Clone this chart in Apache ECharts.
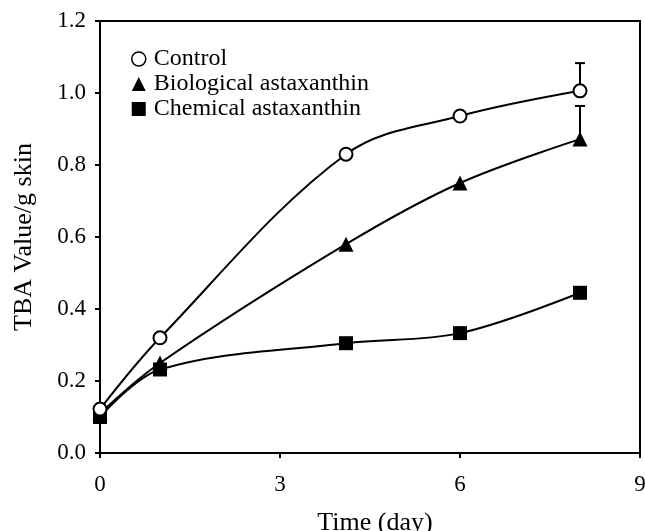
<!DOCTYPE html>
<html>
<head>
<meta charset="utf-8">
<script src="https://cdn.jsdelivr.net/npm/echarts@6/dist/echarts.min.js"></script>
<style>
html,body{margin:0;padding:0;background:#fff;}
#main{width:645px;height:531px;}
</style>
</head>
<body>
<div id="main"></div>
<script>
// data
var days = [0, 1, 4.1, 6, 8];
var control = [0.122, 0.32, 0.83, 0.936, 1.006];
var biological = [0.11, 0.25, 0.58, 0.75, 0.872];
var chemical = [0.10, 0.232, 0.305, 0.333, 0.445];
// error bars (upper only) at day 8
var errControl = [[8, 1.006, 1.083]];
var errBio = [[8, 0.872, 0.964]];

var myChart = echarts.init(document.getElementById('main'));
var fnt = 'Liberation Serif';

function pairs(xs, ys) {
	var out = [];
	for (var i = 0; i < xs.length; i++) {
		out.push([xs[i], ys[i]]);
	}
	return out;
}

function errItem(params, api) {
	var p0 = api.coord([api.value(0), api.value(1)]);
	var p1 = api.coord([api.value(0), api.value(2)]);
	var st = {stroke: '#000', lineWidth: 2};
	return {
		type: 'group',
		children: [
			{type: 'line', shape: {x1: p0[0], y1: p0[1], x2: p1[0], y2: p1[1]}, style: st},
			{type: 'line', shape: {x1: p1[0] - 5, y1: p1[1], x2: p1[0] + 5, y2: p1[1]}, style: st}
		]
	};
}

var option = {
	backgroundColor: '#fff',
	animation: false,
	grid: {
		left: 100, right: 5, top: 21, bottom: 78,
		outerBoundsMode: 'none', containLabel: false,
		show: true, borderColor: '#000', borderWidth: 2
	},
	legend: {
		orient: 'vertical',
		left: 126, top: 42,
		itemGap: 1,
		itemWidth: 14, itemHeight: 14,
		textStyle: {fontFamily: fnt, fontSize: 24, color: '#000', lineHeight: 24, padding: [0, 0, 0, 3]},
		data: [
			{name: 'Control', icon: 'circle', itemStyle: {color: '#fff', borderColor: '#000', borderWidth: 1.5}},
			{name: 'Biological astaxanthin', icon: 'triangle', itemStyle: {color: '#000'}},
			{name: 'Chemical astaxanthin', icon: 'rect', itemStyle: {color: '#000'}}
		]
	},
	xAxis: {
		type: 'value', min: 0, max: 9, interval: 3,
		name: 'Time (day)', nameLocation: 'middle', nameGap: 57,
		nameTextStyle: {fontFamily: fnt, fontSize: 26, color: '#000', padding: [0, 0, 0, 10]},
		axisLine: {lineStyle: {color: '#000', width: 2}},
		axisTick: {show: true, length: 5, lineStyle: {color: '#000', width: 2}},
		axisLabel: {fontFamily: fnt, fontSize: 23, color: '#000', margin: 20},
		splitLine: {show: false}
	},
	yAxis: {
		type: 'value', min: 0, max: 1.2, interval: 0.2,
		name: 'TBA Value/g skin', nameLocation: 'middle', nameGap: 63,
		nameTextStyle: {fontFamily: fnt, fontSize: 26, color: '#000'},
		axisLine: {lineStyle: {color: '#000', width: 2}},
		axisTick: {show: true, length: 5, lineStyle: {color: '#000', width: 2}},
		axisLabel: {fontFamily: fnt, fontSize: 23, color: '#000', margin: 14,
			formatter: function(v) { return v.toFixed(1); }},
		splitLine: {show: false}
	},
	series: [
		{
			name: 'Control', type: 'line', smooth: 0.35,
			data: pairs(days, control),
			symbol: 'circle', symbolSize: 13, z: 5,
			lineStyle: {color: '#000', width: 2},
			itemStyle: {color: '#fff', borderColor: '#000', borderWidth: 2}
		},
		{
			name: 'Biological astaxanthin', type: 'line', smooth: 0.35,
			data: pairs(days, biological),
			symbol: 'triangle', symbolSize: 15, z: 4,
			lineStyle: {color: '#000', width: 2},
			itemStyle: {color: '#000'}
		},
		{
			name: 'Chemical astaxanthin', type: 'line', smooth: 0.35,
			data: pairs(days, chemical),
			symbol: 'rect', symbolSize: 14, z: 3,
			lineStyle: {color: '#000', width: 2},
			itemStyle: {color: '#000'}
		},
		{type: 'custom', renderItem: errItem, data: errControl, z: 2, silent: true},
		{type: 'custom', renderItem: errItem, data: errBio, z: 2, silent: true}
	]
};
myChart.setOption(option);
</script>
</body>
</html>
